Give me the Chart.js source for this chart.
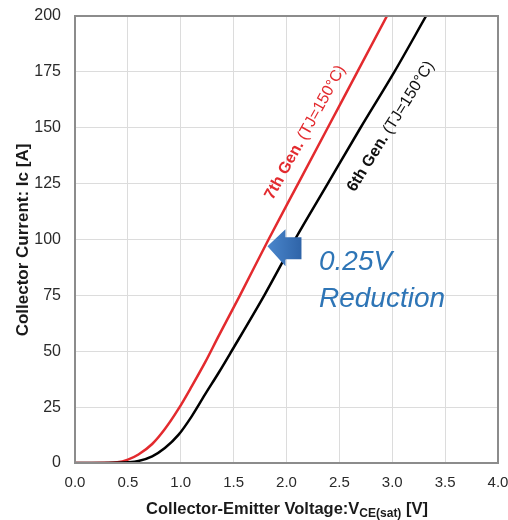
<!DOCTYPE html>
<html>
<head>
<meta charset="utf-8">
<script src="https://cdn.jsdelivr.net/npm/chart.js@4"></script>
<style>
  html, body { margin: 0; padding: 0; background: #fff; }
  #wrap { width: 508px; height: 520px; }
</style>
</head>
<body>
<div id="wrap"><canvas id="vceChart"></canvas></div>
<script>
// Values
const gen7Voltage = [0, 0.3, 0.4, 0.5, 0.6, 0.73, 0.85, 0.98, 1.105, 1.23, 1.36, 1.56, 1.83, 2.11, 2.39, 2.67, 2.95];
const gen7Current = [0, 0.1, 0.3, 1.5, 3.8, 8.5, 15.2, 24.3, 34.4, 45, 57, 75, 100, 125, 150, 175, 200];
const gen6Voltage = [0, 0.4, 0.5, 0.6, 0.73, 0.85, 0.98, 1.105, 1.23, 1.36, 1.48, 1.79, 2.08, 2.39, 2.7, 3.02, 3.32];
const gen6Current = [0, 0.1, 0.3, 0.9, 3, 6.7, 12.7, 21, 30.7, 40.5, 50, 75, 100, 125, 150, 175, 200];
const xTicks = [0, 0.5, 1, 1.5, 2, 2.5, 3, 3.5, 4];
const yTicks = [0, 25, 50, 75, 100, 125, 150, 175, 200];

const toPoints = (xs, ys) => xs.map((x, i) => ({ x: x, y: ys[i] }));
const FONT = '"Liberation Sans", Arial, sans-serif';

// Extra drawing: frame, axis titles, curve labels, arrow and note
const decorations = {
  id: 'decorations',
  afterDraw(chart) {
    const c = chart.ctx;
    const a = chart.chartArea;
    const xs = chart.scales.x, ys = chart.scales.y;
    c.save();

    // plot frame
    c.strokeStyle = '#8c8c8c';
    c.lineWidth = 2;
    c.strokeRect(a.left, a.top, a.right - a.left, a.bottom - a.top);

    // y axis title
    c.fillStyle = '#1a1a1a';
    c.font = 'bold 17px ' + FONT;
    c.textAlign = 'center';
    c.textBaseline = 'middle';
    c.save();
    c.translate(23, 240);
    c.rotate(-Math.PI / 2);
    c.fillText('Collector Current: Ic [A]', 0, 0);
    c.restore();

    // x axis title with subscript
    const partA = 'Collector-Emitter Voltage:V';
    const sub = 'CE(sat)';
    const partB = ' [V]';
    const big = 'bold 16.5px ' + FONT;
    const small = 'bold 12px ' + FONT;
    c.font = big; const wA = c.measureText(partA).width; const wB = c.measureText(partB).width;
    c.font = small; const wS = c.measureText(sub).width;
    let tx = 287 - (wA + wS + wB) / 2;
    const ty = 514;
    c.textAlign = 'left';
    c.textBaseline = 'alphabetic';
    c.font = big; c.fillText(partA, tx, ty); tx += wA;
    c.font = small; c.fillText(sub, tx, ty + 3); tx += wS;
    c.font = big; c.fillText(partB, tx, ty);

    // rotated curve labels
    const label = (x, y, angle, color, boldPart, rest) => {
      c.save();
      c.translate(xs.getPixelForValue(x), ys.getPixelForValue(y));
      c.rotate(-angle * Math.PI / 180);
      c.fillStyle = color;
      c.textAlign = 'left';
      c.textBaseline = 'alphabetic';
      c.font = 'bold 16px ' + FONT;
      c.fillText(boldPart, 0, 0);
      const w = c.measureText(boldPart).width;
      c.font = '16px ' + FONT;
      c.fillText(rest, w + 4, 0);
      c.restore();
    };
    label(1.87, 117.5, 61, '#e32a2e', '7th Gen.', '(TJ=150°C)');
    label(2.645, 121, 58, '#111111', '6th Gen.', '(TJ=150°C)');

    // block arrow pointing left
    const tipX = xs.getPixelForValue(1.82), midY = ys.getPixelForValue(97);
    const grad = c.createLinearGradient(tipX, 0, tipX + 34, 0);
    grad.addColorStop(0, '#4a86cc');
    grad.addColorStop(1, '#2f64a8');
    c.fillStyle = grad;
    c.beginPath();
    c.moveTo(tipX, midY);
    c.lineTo(tipX + 18, midY - 17);
    c.lineTo(tipX + 18, midY - 9);
    c.lineTo(tipX + 34, midY - 9);
    c.lineTo(tipX + 34, midY + 13);
    c.lineTo(tipX + 18, midY + 13);
    c.lineTo(tipX + 18, midY + 20);
    c.closePath();
    c.fill();

    // note
    c.fillStyle = '#2e75b6';
    c.font = 'italic 28px ' + FONT;
    c.textBaseline = 'alphabetic';
    c.fillText('0.25V', 319, 270);
    c.fillText('Reduction', 319, 307);

    c.restore();
  }
};

new Chart(document.getElementById('vceChart').getContext('2d'), {
  type: 'line',
  data: {
    datasets: [
      {
        label: '6th Gen.',
        data: toPoints(gen6Voltage, gen6Current),
        borderColor: '#000000',
        borderWidth: 2.5,
        pointRadius: 0,
        cubicInterpolationMode: 'monotone',
        fill: false
      },
      {
        label: '7th Gen.',
        data: toPoints(gen7Voltage, gen7Current),
        borderColor: '#e32a2e',
        borderWidth: 2.5,
        pointRadius: 0,
        cubicInterpolationMode: 'monotone',
        fill: false
      }
    ]
  },
  options: {
    responsive: true,
    maintainAspectRatio: false,
    animation: false,
    layout: { padding: { top: 16, right: 10, left: 0, bottom: 0 } },
    plugins: {
      legend: { display: false },
      tooltip: { enabled: false }
    },
    scales: {
      x: {
        type: 'linear',
        min: 0,
        max: 4,
        afterFit: s => { s.height = 57; s.paddingLeft = 0; s.paddingRight = 0; },
        afterBuildTicks: s => { s.ticks = xTicks.map(v => ({ value: v })); },
        grid: { color: '#dcdcdc', drawTicks: false },
        border: { display: false },
        ticks: {
          color: '#2a2a2a',
          padding: 11,
          font: { size: 15, family: FONT },
          callback: v => Number(v).toFixed(1)
        }
      },
      y: {
        type: 'linear',
        min: 0,
        max: 200,
        afterFit: s => { s.width = 75; s.paddingTop = 0; s.paddingBottom = 0; },
        afterBuildTicks: s => { s.ticks = yTicks.map(v => ({ value: v })); },
        grid: { color: '#dcdcdc', drawTicks: false },
        border: { display: false },
        ticks: {
          color: '#2a2a2a',
          padding: 14,
          font: { size: 16, family: FONT }
        }
      }
    }
  },
  plugins: [decorations]
});
</script>
</body>
</html>
